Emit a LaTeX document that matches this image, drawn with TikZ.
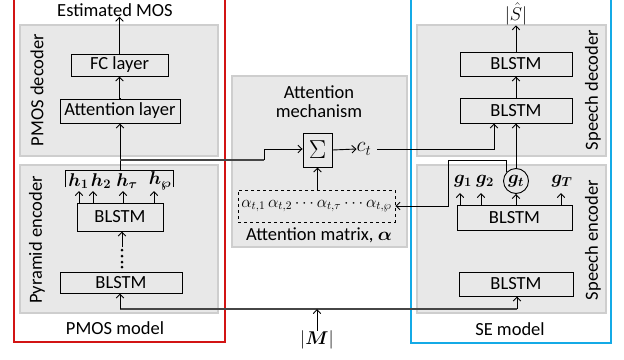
\RequirePackage{fix-cm}
\documentclass[tikz,border=0pt]{standalone}
\usepackage{amsmath,amssymb,bm}
\usepackage{fontspec}
\setmainfont{Carlito}
\usetikzlibrary{arrows.meta}
\definecolor{panelgray}{RGB}{232,232,232}
\definecolor{panelborder}{RGB}{206,206,206}
\definecolor{pmosred}{RGB}{210,20,20}
\definecolor{seblue}{RGB}{20,170,230}
\definecolor{darkline}{RGB}{70,70,70}
\begin{document}
\begin{tikzpicture}[x=1pt,y=-1pt,
  font=\fontsize{18.5}{21}\selectfont,
  panel/.style={fill=panelgray,draw=panelborder,line width=1.2pt,inner sep=0pt},
  blk/.style={draw,line width=0.9pt,inner sep=0pt},
  arr/.style={line width=0.9pt,-{Straight Barb[length=4pt,width=7.5pt]}},
  ln/.style={line width=0.9pt},
  thick line/.style={line width=1.5pt,draw=darkline},
  lbl/.style={inner sep=0pt},
  mlbl/.style={inner sep=0pt,font=\fontsize{18.5}{22}\selectfont},
  side/.style={inner sep=0pt,rotate=90}]
\useasboundingbox (0,0) rectangle (624,359);

% model frames
\draw[pmosred,line width=1.1pt] (14,-2) -- (14,342) -- (225,342) -- (225,-2);
\draw[seblue,line width=1.1pt] (411,-2) -- (411,343) -- (611,343) -- (611,-2);

% panels
\node[panel,minimum width=198pt,minimum height=131pt] (pdec) at (119,90.5) {};
\node[panel,minimum width=198pt,minimum height=148pt] (penc) at (119,239) {};
\node[panel,minimum width=175pt,minimum height=171pt] (attm) at (319.5,161.5) {};
\node[panel,minimum width=189pt,minimum height=131pt] (sdec) at (511.5,90.5) {};
\node[panel,minimum width=189pt,minimum height=148pt] (senc) at (511.5,239) {};

% panel labels
\node[side] (lpdec) at (37,90) {PMOS decoder};
\node[side] (lpenc) at (37,240) {Pyramid encoder};
\node[side] (lsdec) at (593,90) {Speech decoder};
\node[side] (lsenc) at (593,240) {Speech encoder};
\node[lbl,align=center] (lattm) at (319,102) {Attention\\[-2pt]mechanism};
\node[lbl] (pmos) at (115,328) {PMOS model};
\node[lbl] (semod) at (510,329) {SE model};

% PMOS decoder
\node[lbl] (est) at (115,10) {Estimated MOS};
\node[blk,minimum width=97pt,minimum height=22pt] (fc) at (119.5,65) {FC layer};
\node[blk,minimum width=120pt,minimum height=24pt] (attl) at (120,111) {Attention layer};

% Pyramid encoder
\node[minimum width=107pt,minimum height=16pt,inner sep=0pt] (hv) at (119.5,179) {};
\draw[ln] (hv.south west) -- (hv.north west) -- (hv.north east) -- (hv.south east);
\node[mlbl] (h1) at (78.5,181) {$\bm{h}_{\bm{1}}$};
\node[mlbl] (h2) at (101,181) {$\bm{h}_{\bm{2}}$};
\node[mlbl] (ht) at (127,181) {$\bm{h}_{\bm{\tau}}$};
\node[mlbl] (hp) at (160,181) {$\bm{h}_{\bm{\wp}}$};
\node[blk,minimum width=86pt,minimum height=28pt] (pb2) at (120,217) {BLSTM};
\node[blk,minimum width=122pt,minimum height=21pt] (pb1) at (121,282.5) {BLSTM};
\foreach \y in {250,256,262,267}
  \fill (122,\y) circle (1.5pt);
\coordinate (dtop) at (122,247);

% Attention mechanism
\node[blk,minimum width=29pt,minimum height=34pt] (sig) at (317.5,150) {\fontsize{26}{26}\selectfont$\Sigma$};
\node[inner sep=0pt,font=\fontsize{21}{24}\selectfont] (ct) at (364,149) {$c_t$};
\node[draw,dashed,line width=0.9pt,minimum width=157pt,minimum height=32pt,inner sep=0pt,font=\fontsize{16.5}{20}\selectfont] (amat) at (316.5,206)
  {$\alpha_{t,1}\,\alpha_{t,2}\cdots\alpha_{t,\tau}\cdots\alpha_{t,\wp}$};
\node[lbl] (lamat) at (319,235) {Attention matrix, $\bm{\alpha}$};

% Speech decoder
\node[mlbl] (shat) at (516,14) {$|\hat{S}|$};
\node[blk,minimum width=112pt,minimum height=24pt] (sd2) at (516,64) {BLSTM};
\node[blk,minimum width=112pt,minimum height=25pt] (sd1) at (516,110.5) {BLSTM};

% Speech encoder
\node[mlbl] (g1) at (463,181) {$\bm{g}_{\bm{1}}$};
\node[mlbl] (g2) at (485,181) {$\bm{g}_{\bm{2}}$};
\node[draw,circle,line width=0.9pt,minimum size=25pt,inner sep=0pt,font=\fontsize{18.5}{22}\selectfont] (gt) at (516,181) {$\bm{g}_{\bm{t}}$};
\node[mlbl] (gT) at (562,181) {$\bm{g}_{\bm{T}}$};
\node[blk,minimum width=115pt,minimum height=25pt] (se2) at (514.5,217.5) {BLSTM};
\node[blk,minimum width=114pt,minimum height=24pt] (se1) at (516,284) {BLSTM};

% input
\node[mlbl] (m) at (317,340) {$|\bm{M}|$};
\coordinate (mj) at (317,309);

% connectors: PMOS
\draw[arr] (fc.north) -- (fc.north |- est.south);
\draw[arr] (attl.north) -- (attl.north -| fc.south) -- (fc.south);
\draw[arr] (hv.north -| attl.south) -- (attl.south);
\foreach \x in {79,93,123,154}
  \draw[arr] (\x,203) -- (\x,191);
\draw[arr] (dtop) -- (dtop |- pb2.south);
\draw[thick line] (120,309) -- (517,309);
\draw[arr] (120,309) -- (pb1.south -| 120,0);
\draw[arr] (517,309) -- (se1.south -| 517,0);
\draw[arr] (m.north) -- (mj);

% PMOS -> attention
\draw[thick line] (120,160) -- (264,160);
\draw[arr] (264,160) -- (264,149) -- (sig.west |- 0,149);

% attention mechanism internals
\draw[arr] (sig.east) -- (ct.west);
\draw[arr] (amat.north -| sig.south) -- (sig.south);
\draw[arr] (ct.east) ++(6,0) -- (494,149) -- (sd1.south -| 494,0);

% speech decoder
\draw[arr] (sd1.north) -- (sd2.south);
\draw[arr] (sd2.north) -- (shat.south);

% speech encoder
\foreach \x in {460,481,561}
  \draw[arr] (\x,205) -- (\x,193);
\draw[arr] (se2.north -| gt.south) -- (gt.south);
\draw[arr] (gt.north) -- (sd1.south -| gt.north);
\draw[arr] (gt.135) -- (gt.135 |- 0,160) -- (448,160) -- (448,206) -- (amat.east);
\end{tikzpicture}
\end{document}
